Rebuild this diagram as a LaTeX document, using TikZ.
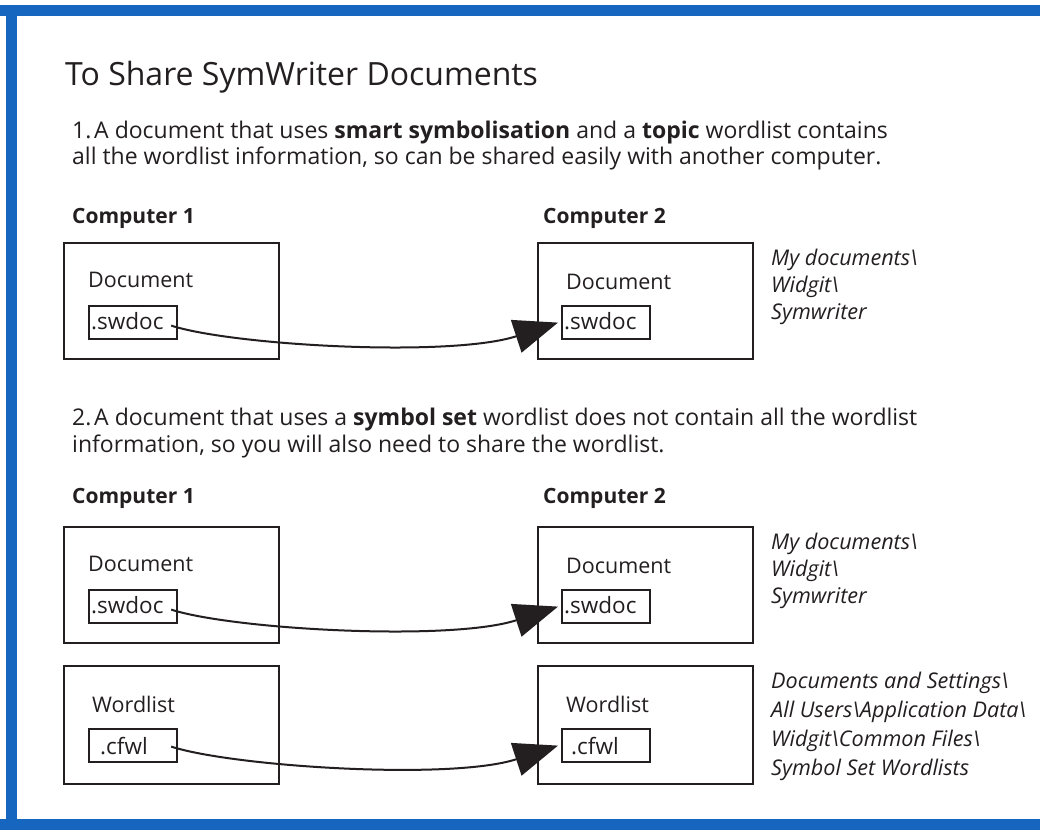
\documentclass[tikz,border=0pt]{standalone}
\usepackage{fontspec}
\setmainfont{Open Sans}
\usetikzlibrary{arrows.meta}
\definecolor{frameblue}{RGB}{22,102,192}
\definecolor{ink}{RGB}{35,31,32}
\begin{document}
\begin{tikzpicture}[x=1pt,y=-1pt,
  txt/.style={anchor=base west, inner sep=0pt, text=ink},
  body/.style={txt, font=\fontsize{23}{26}\selectfont},
  comp/.style={txt, font=\fontsize{21}{24}\selectfont\bfseries},
  path/.style={txt, font=\fontsize{21.6}{26}\selectfont\itshape},
  label/.style={txt, font=\fontsize{21.5}{24}\selectfont},
  ftext/.style={txt, font=\fontsize{22.5}{24}\selectfont},
  bigbox/.style={draw=ink, line width=2.2pt, anchor=north west, inner sep=0pt, minimum width=215pt, minimum height=116pt},
  filebox/.style={draw=ink, line width=2.2pt, anchor=north west, inner sep=0pt, minimum width=88pt, minimum height=33pt},
  conn/.style={draw=ink, line width=2pt, -{Triangle[length=44pt,width=34pt]}},
  ]
\useasboundingbox (0,0) rectangle (1040,830);
\fill[white] (0,0) rectangle (1040,830);
\fill[frameblue] (0,5) rectangle (1040,16);
\fill[frameblue] (6,5) rectangle (17,830);
\fill[frameblue] (0,819) rectangle (1040,830);

\node[txt, font=\fontsize{32}{34}\selectfont] (title) at (65,85) {To Share SymWriter Documents};

% section 1
\node[body] (p1a) at (72,138) {1.\hspace{0.12em}A document that uses \textbf{smart symbolisation} and a \textbf{topic} wordlist contains};
\node[body] (p1b) at (72,164) {all the wordlist information, so can be shared easily with another computer.};
\node[comp] (c1h) at (72,223) {Computer 1};
\node[comp] (c2h) at (543,223) {Computer 2};

\node[bigbox] (c1doc) at (63,242) {};
\node[label] (c1doct) at (88,287) {Document};
\node[filebox] (c1sw) at (88,305) {};
\node[ftext] (c1swt) at (91,329) {.swdoc};

\node[bigbox] (c2doc) at (537,242) {};
\node[label] (c2doct) at (566,289) {Document};
\node[filebox] (c2sw) at (561,305) {};
\node[ftext] (c2swt) at (564,329) {.swdoc};

\node[path] (pa1) at (771,265) {My documents\textbackslash};
\node[path] (pa2) at (771,292) {Widgit\textbackslash};
\node[path] (pa3) at (771,319) {Symwriter};

\draw[conn] ([shift={(-7,3)}]c1sw.east) .. controls +(62,20) and +(-107,35) .. ([xshift=-3]c2sw.west);

% section 2
\node[body] (p2a) at (72,425) {2.\hspace{0.12em}A document that uses a \textbf{symbol set} wordlist does not contain all the wordlist};
\node[body] (p2b) at (72,452) {information, so you will also need to share the wordlist.};
\node[comp] (c3h) at (72,503) {Computer 1};
\node[comp] (c4h) at (543,503) {Computer 2};

\node[bigbox] (c3doc) at (63,526) {};
\node[label] (c3doct) at (88,571) {Document};
\node[filebox] (c3sw) at (88,589) {};
\node[ftext] (c3swt) at (91,613) {.swdoc};

\node[bigbox] (c4doc) at (537,526) {};
\node[label] (c4doct) at (566,573) {Document};
\node[filebox] (c4sw) at (561,589) {};
\node[ftext] (c4swt) at (564,613) {.swdoc};

\node[path] (pb1) at (771,549) {My documents\textbackslash};
\node[path] (pb2) at (771,576) {Widgit\textbackslash};
\node[path] (pb3) at (771,603) {Symwriter};

\draw[conn] ([shift={(-7,3)}]c3sw.east) .. controls +(62,20) and +(-107,35) .. ([xshift=-3]c4sw.west);

\node[bigbox, minimum height=118pt] (c3wl) at (63,665) {};
\node[label] (c3wlt) at (92,712) {Wordlist};
\node[filebox] (c3cf) at (88,728) {};
\node[ftext] (c3cft) at (100,754) {.cfwl};

\node[bigbox, minimum height=118pt] (c4wl) at (537,665) {};
\node[label] (c4wlt) at (566,712) {Wordlist};
\node[filebox] (c4cf) at (561,728) {};
\node[ftext] (c4cft) at (571,754) {.cfwl};

\node[path] (pc1) at (771,688) {Documents and Settings\textbackslash};
\node[path] (pc2) at (771,717) {All Users\textbackslash Application Data\textbackslash};
\node[path] (pc3) at (771,746) {Widgit\textbackslash Common Files\textbackslash};
\node[path] (pc4) at (771,775) {Symbol Set Wordlists};

\draw[conn] ([shift={(-7,1)}]c3cf.east) .. controls +(62,20) and +(-107,35) .. ([xshift=-3]c4cf.west);
\end{tikzpicture}
\end{document}
